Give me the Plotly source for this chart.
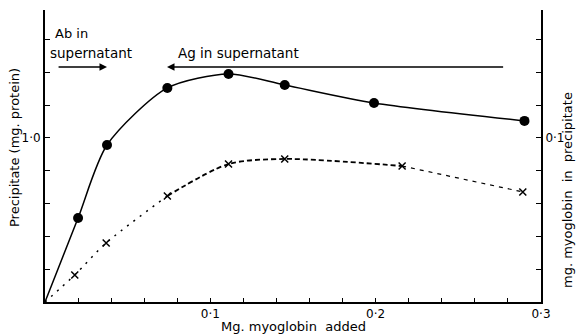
import plotly.graph_objects as go

# Data
circle_x = [0.020, 0.0375, 0.074, 0.111, 0.145, 0.199, 0.290]
circle_y = [0.512, 0.957, 1.305, 1.390, 1.323, 1.213, 1.104]  # mg protein

cross_x = [0.018, 0.037, 0.074, 0.111, 0.145, 0.216, 0.289]
cross_y = [0.0165, 0.036, 0.0646, 0.0841, 0.0872, 0.0829, 0.0671]  # mg myoglobin

x_ticks = [0.02 * i for i in range(1, 16)]
x_labels = {0.1: "0·1", 0.2: "0·2", 0.3: "0·3"}
y_ticks = [0.2 * i for i in range(1, 9)]
y_labels = {1.0: "1·0"}
y2_ticks = [0.02 * i for i in range(1, 9)]
y2_labels = {0.1: "0·1"}

FONT = "DejaVu Sans"
TF = dict(family=FONT, size=13, color="black")

def labels(vals, lab):
    out = []
    for v in vals:
        t = ""
        for k, s in lab.items():
            if abs(v - k) < 1e-9:
                t = s
        out.append(t)
    return out

fig = go.Figure()

# solid curve through origin and circles
fig.add_trace(go.Scatter(x=[0] + circle_x, y=[0] + circle_y, mode="lines",
                         line=dict(color="black", width=1.5, shape="spline", smoothing=0.75),
                         hoverinfo="skip", showlegend=False))
fig.add_trace(go.Scatter(x=circle_x, y=circle_y, mode="markers",
                         marker=dict(color="black", size=10, symbol="circle"),
                         showlegend=False))

# cross curve in segments with different dash styles
cx = [0] + cross_x
cy = [0] + cross_y
segs = [(0, 4, "2px,6px", 1.5), (3, 7, "5px,3px", 1.8), (6, 8, "4px,5px", 1.2)]
for a, b, dash, w in segs:
    fig.add_trace(go.Scatter(x=cx[a:b], y=cy[a:b], yaxis="y2", mode="lines",
                             line=dict(color="black", width=w, dash=dash, shape="spline", smoothing=0.8),
                             hoverinfo="skip", showlegend=False))
fig.add_trace(go.Scatter(x=cross_x, y=cross_y, yaxis="y2", mode="markers",
                         marker=dict(color="black", size=7, symbol="x-thin",
                                     line=dict(color="black", width=1.5)),
                         showlegend=False))

annots = [
    dict(x=0.0375, y=1.433, ax=0.0073, ay=1.433, xref="x", yref="y", axref="x", ayref="y",
         showarrow=True, arrowhead=2, arrowsize=1, arrowwidth=1.5, arrowcolor="black", text=""),
    dict(x=0.0738, y=1.433, ax=0.278, ay=1.433, xref="x", yref="y", axref="x", ayref="y",
         showarrow=True, arrowhead=2, arrowsize=1, arrowwidth=1.5, arrowcolor="black", text=""),
    dict(x=0.005, y=1.635, xref="x", yref="y", text="Ab in", showarrow=False, xanchor="left",
         font=dict(family=FONT, size=13, color="black")),
    dict(x=0.002, y=1.52, xref="x", yref="y", text="supernatant", showarrow=False, xanchor="left",
         font=dict(family=FONT, size=13.5, color="black")),
    dict(x=0.079, y=1.52, xref="x", yref="y", text="Ag in supernatant", showarrow=False, xanchor="left",
         font=dict(family=FONT, size=13.5, color="black")),
    dict(x=0, y=0.5, xref="paper", yref="paper", text="Precipitate (mg. protein)",
         showarrow=False, textangle=-90, xanchor="center", yanchor="middle", xshift=-31, yshift=8,
         font=TF),
    dict(x=1.0, y=0.5, xref="paper", yref="paper", text="mg. myoglobin  in  precipitate",
         showarrow=False, textangle=-90, xanchor="center", yanchor="middle", xshift=26, yshift=-34,
         font=TF),
    dict(x=0.5, y=0, xref="paper", yref="paper", text="Mg. myoglobin  added",
         showarrow=False, xanchor="center", yanchor="middle", yshift=-24, font=TF),
]

fig.update_layout(
    width=576, height=335,
    margin=dict(l=45, r=35, t=10, b=33),
    paper_bgcolor="white", plot_bgcolor="white",
    font=dict(family=FONT, size=12, color="black"),
    annotations=annots,
    xaxis=dict(range=[0, 0.3], showgrid=False, zeroline=False, showline=True, linecolor="black",
               linewidth=2, ticks="inside", ticklen=4, tickwidth=1.2, tickcolor="black",
               tickvals=x_ticks, ticktext=labels(x_ticks, x_labels), automargin=False),
    yaxis=dict(range=[0, 1.78], showgrid=False, zeroline=False, showline=True, linecolor="black",
               linewidth=2, ticks="inside", ticklen=5, tickwidth=1.2, tickcolor="black",
               tickvals=y_ticks, ticktext=labels(y_ticks, y_labels), automargin=False),
    yaxis2=dict(range=[0, 0.178], overlaying="y", side="right", showgrid=False, zeroline=False,
                showline=True, linecolor="black", linewidth=2, ticks="inside", ticklen=5,
                tickwidth=1.2, tickcolor="black", automargin=False,
                tickvals=y2_ticks, ticktext=labels(y2_ticks, y2_labels)),
)

fig.write_html("out.html")
